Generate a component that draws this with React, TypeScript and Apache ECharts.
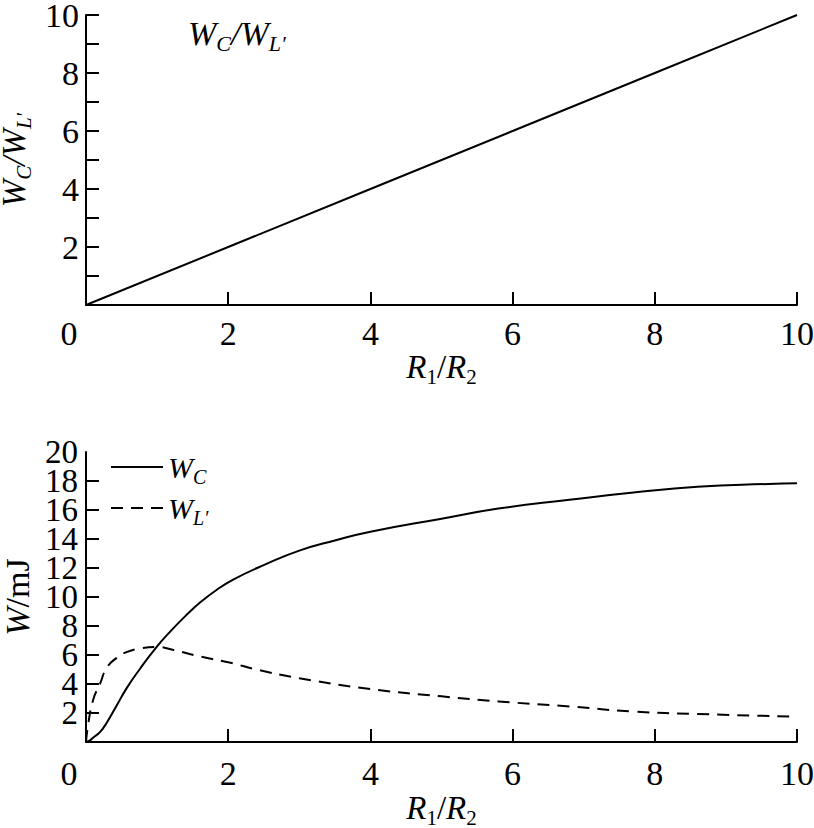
import React, { useEffect, useRef } from "react";
import * as echarts from "echarts";

const ratioX = [0, 2, 4, 6, 8, 10];
const ratioY = [0, 2, 4, 6, 8, 10];

const wcX = [0, 0.05, 0.1, 0.2, 0.3, 0.43, 0.57, 0.76, 1.0, 1.2, 1.4, 1.6, 1.84, 2.07, 2.5, 3.0, 3.5, 4, 5, 5.8, 6.8, 7.7, 8.6, 9.6, 10];
const wcY = [0, 0.1, 0.3, 0.7, 1.4, 2.5, 3.7, 5.05, 6.6, 7.7, 8.7, 9.6, 10.5, 11.2, 12.2, 13.2, 13.9, 14.5, 15.4, 16.1, 16.7, 17.2, 17.6, 17.8, 17.85];

const wlX = [0, 0.03, 0.1, 0.2, 0.29, 0.43, 0.57, 0.76, 1.0, 1.23, 1.6, 2.0, 2.4, 3.0, 4.0, 5.0, 5.8, 6.8, 7.7, 8.6, 10];
const wlY = [0, 1.2, 2.9, 4.05, 5.1, 5.8, 6.2, 6.45, 6.55, 6.35, 5.9, 5.5, 5.0, 4.4, 3.65, 3.15, 2.8, 2.45, 2.1, 1.93, 1.75];

const seriesNames = ["WC", "WL"];

const FONT = "Liberation Serif";

const richBase = (size: number, sub: number, lh: number) => ({
  i: { fontFamily: FONT, fontStyle: "italic", fontWeight: "normal", fontSize: size, lineHeight: lh, color: "#000" },
  n: { fontFamily: FONT, fontWeight: "normal", fontSize: size, lineHeight: lh, color: "#000" },
  s: { fontFamily: FONT, fontStyle: "italic", fontWeight: "normal", fontSize: sub, lineHeight: sub, verticalAlign: "bottom", color: "#000" },
  u: { fontFamily: FONT, fontWeight: "normal", fontSize: sub, lineHeight: sub, verticalAlign: "bottom", color: "#000" },
  a: { fontFamily: FONT, fontWeight: "normal", fontSize: 34, lineHeight: 26, color: "#000" },
  b: { fontFamily: FONT, fontWeight: "normal", fontSize: 33, lineHeight: 18, color: "#000" },
  z: { fontFamily: FONT, fontWeight: "normal", fontSize: 34, lineHeight: 26, color: "#000", padding: [0, 34, 0, 0] },
});

const axisCommon = {
  axisLine: { show: true, lineStyle: { color: "#000", width: 2 } },
  axisTick: { show: true, inside: true, length: 13, lineStyle: { color: "#000", width: 2 } },
  splitLine: { show: false },
};

export default function App() {
  const ref = useRef<HTMLDivElement>(null);
  useEffect(() => {
    if (!ref.current) return;
    const chart = echarts.init(ref.current, undefined, { renderer: "svg" });
    const xLabelFmt = (v: number) => (v === 0 ? "{z|0}" : "{a|" + v + "}");
    const xAxisBase = (grid: number, margin: number, gap: number) => ({
      type: "value",
      gridIndex: grid,
      min: 0,
      max: 10,
      interval: 2,
      ...axisCommon,
      axisLabel: {
        margin,
        formatter: xLabelFmt,
        showMinLabel: true,
        showMaxLabel: true,
        rich: richBase(32, 21, 40),
      },
      name: "{i|R}{u|1}{n|/}{i|R}{u|2}",
      nameLocation: "middle",
      nameGap: gap,
      nameTextStyle: { rich: richBase(33, 21, 40) },
    });
    chart.setOption({
      animation: false,
      backgroundColor: "#fff",
      textStyle: { fontFamily: FONT, color: "#000" },
      title: {
        text: "{i|W}{s|C}{i|/W}{s|L′}",
        left: 188,
        top: 12,
        padding: 0,
        textStyle: { fontWeight: "normal", rich: richBase(34, 22, 42) },
      },
      legend: {
        data: seriesNames,
        orient: "vertical",
        left: 110,
        top: 452,
        padding: 0,
        itemWidth: 52,
        itemHeight: 14,
        itemGap: 6,
        itemStyle: { opacity: 0 },
        formatter: (n: string) => (n === "WC" ? "{i|W}{s|C}" : "{i|W}{s|L′}"),
        textStyle: { rich: richBase(30, 20, 40) },
      },
      grid: [
        { left: 86, top: 15, width: 711, height: 290, containLabel: false, outerBoundsMode: "none" },
        { left: 86, top: 452, width: 711, height: 290, containLabel: false, outerBoundsMode: "none" },
      ],
      xAxis: [xAxisBase(0, 15, 42), xAxisBase(1, 18, 46)],
      yAxis: [
        {
          type: "value",
          gridIndex: 0,
          min: 0,
          max: 10,
          interval: 1,
          ...axisCommon,
          axisLabel: {
            margin: 7,
            showMinLabel: false,
            showMaxLabel: true,
            hideOverlap: false,
            formatter: (v: number) => (v !== 0 && v % 2 === 0 ? "{a|" + v + "}" : ""),
            rich: richBase(32, 21, 40),
          },
          name: "{i|W}{s|C}{i|/W}{s|L′}",
          nameLocation: "middle",
          nameGap: 38,
          nameTextStyle: { rich: richBase(33, 21, 40) },
        },
        {
          type: "value",
          gridIndex: 1,
          min: 0,
          max: 20,
          interval: 2,
          ...axisCommon,
          axisLabel: {
            margin: 8,
            showMinLabel: false,
            showMaxLabel: false,
            hideOverlap: false,
            formatter: (v: number) => (v !== 0 && v !== 20 ? "{b|" + v + "}" : ""),
            rich: richBase(32, 21, 40),
          },
          name: "{i|W}{n|/mJ}",
          nameLocation: "middle",
          nameGap: 39,
          nameTextStyle: { rich: richBase(34, 21, 40) },
        },
        {
          type: "value",
          gridIndex: 1,
          position: "left",
          min: 0,
          max: 20,
          interval: 20,
          axisLine: { show: false },
          axisTick: { show: false },
          splitLine: { show: false },
          axisLabel: {
            margin: 8,
            showMinLabel: false,
            showMaxLabel: true,
            hideOverlap: false,
            formatter: (v: number) => (v === 20 ? "{b|" + v + "}" : ""),
            rich: richBase(32, 21, 40),
          },
        },
      ],
      series: [
        {
          type: "line",
          xAxisIndex: 0,
          yAxisIndex: 0,
          data: ratioX.map((x, k) => [x, ratioY[k]]),
          symbol: "none",
          lineStyle: { color: "#000", width: 2 },
        },
        {
          name: "WC",
          type: "line",
          xAxisIndex: 1,
          yAxisIndex: 1,
          data: wcX.map((x, k) => [x, wcY[k]]),
          symbol: "none",
          smooth: true,
          itemStyle: { color: "#000" },
          lineStyle: { color: "#000", width: 2 },
        },
        {
          name: "WL",
          type: "line",
          xAxisIndex: 1,
          yAxisIndex: 1,
          data: wlX.map((x, k) => [x, wlY[k]]),
          symbol: "none",
          smooth: true,
          itemStyle: { color: "#000" },
          lineStyle: { color: "#000", width: 2, type: [12, 8] },
        },
      ],
    });
    return () => chart.dispose();
  }, []);
  return (
    <div
      ref={ref}
      style={{ position: "fixed", left: 0, top: 0, width: 814, height: 828, background: "#fff" }}
    />
  );
}
